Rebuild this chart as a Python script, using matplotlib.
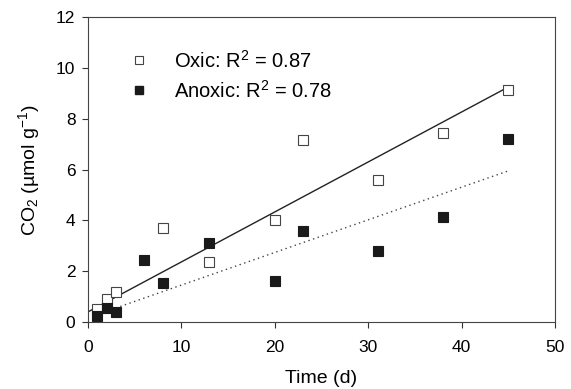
import numpy as np
import matplotlib.pyplot as plt
from matplotlib.lines import Line2D

plt.rcParams['font.family'] = 'Liberation Sans'
plt.rcParams['mathtext.fontset'] = 'custom'
plt.rcParams['mathtext.rm'] = 'Liberation Sans'
plt.rcParams['mathtext.it'] = 'Liberation Sans'

# Oxic incubation (open squares)
oxic_t = [1, 2, 3, 8, 13, 20, 23, 31, 38, 45]
oxic_co2 = [0.5, 0.9, 1.2, 3.7, 2.35, 4.0, 7.15, 5.6, 7.45, 9.15]

# Anoxic incubation (filled squares)
anoxic_t = [1, 2, 3, 6, 8, 13, 20, 23, 31, 38, 45]
anoxic_co2 = [0.25, 0.55, 0.4, 2.45, 1.55, 3.1, 1.6, 3.6, 2.8, 4.15, 7.2]

# regression lines
oxic_fit_t = [0, 45]
oxic_fit_y = [0.4, 9.25]
anoxic_fit_t = [1, 45]
anoxic_fit_y = [0.3, 5.95]

fig = plt.figure(figsize=(5.71, 3.89), dpi=100)
ax = fig.add_axes([0.154, 0.172, 0.818, 0.784])

ax.plot(oxic_fit_t, oxic_fit_y, color='#222222', lw=1.0)
ax.plot(anoxic_fit_t, anoxic_fit_y, color='#444444', lw=1.0, linestyle=(0, (1, 2.5)))

ax.plot(oxic_t, oxic_co2, 's', ms=6.5, mfc='white', mec='#444444', mew=0.8, ls='none')
ax.plot(anoxic_t, anoxic_co2, 's', ms=6.5, mfc='#1a1a1a', mec='#1a1a1a', mew=0.8, ls='none')

ax.set_xlim(0, 50)
ax.set_ylim(0, 12)
ax.set_xticks([0, 10, 20, 30, 40, 50])
ax.set_yticks([0, 2, 4, 6, 8, 10, 12])
ax.tick_params(direction='out', length=4, width=0.8, labelsize=12.5, color='#333333')
ax.tick_params(axis='x', pad=9)
ax.tick_params(axis='y', pad=5)
ax.tick_params(top=False, right=False)
for s in ax.spines.values():
    s.set_linewidth(0.8)
    s.set_color('#444444')

ax.set_xlabel('Time (d)', fontsize=14, labelpad=11)
ax.set_ylabel('CO$_2$ (\u00b5mol g$^{-1}$)', fontsize=14, labelpad=10)

handles = [
    Line2D([], [], marker='s', ms=5.5, mfc='white', mec='#444444', mew=0.8, ls='none'),
    Line2D([], [], marker='s', ms=5.5, mfc='#1a1a1a', mec='#1a1a1a', ls='none'),
]
ax.legend(handles, ['Oxic: R$^2$ = 0.87', 'Anoxic: R$^2$ = 0.78'],
          loc='upper left', bbox_to_anchor=(0.07, 0.92), frameon=False,
          fontsize=14.5, handlelength=1.0, handletextpad=1.25, labelspacing=0.4,
          borderaxespad=0)

fig.savefig('out.png', dpi=100)
